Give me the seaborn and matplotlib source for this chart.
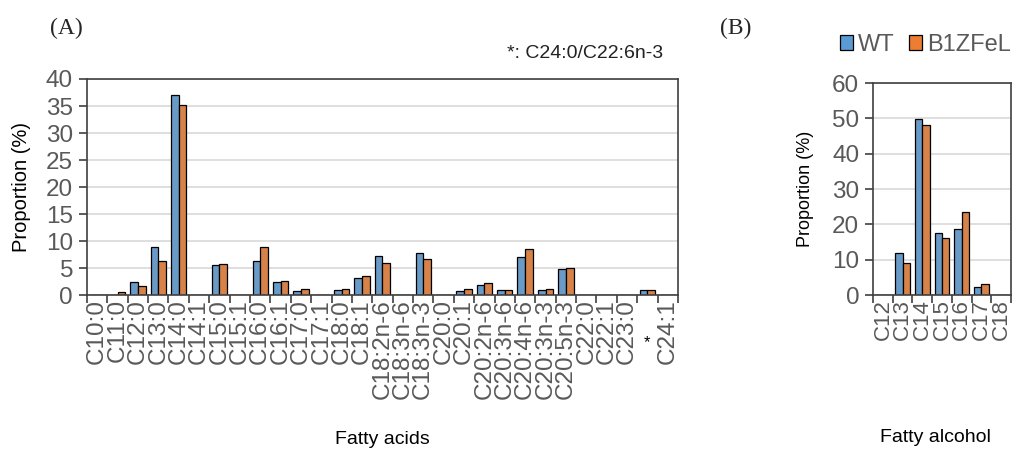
import matplotlib
matplotlib.use("Agg")
import matplotlib.pyplot as plt
from matplotlib.patches import Patch
import pandas as pd
import seaborn as sns

# --- data ---
acids = ["C10:0", "C11:0", "C12:0", "C13:0", "C14:0", "C14:1", "C15:0", "C15:1",
         "C16:0", "C16:1", "C17:0", "C17:1", "C18:0", "C18:1", "C18:2n-6",
         "C18:3n-6", "C18:3n-3", "C20:0", "C20:1", "C20:2n-6", "C20:3n-6",
         "C20:4n-6", "C20:3n-3", "C20:5n-3", "C22:0", "C22:1", "C23:0", "*", "C24:1"]
acid_wt = [0.0, 0.1, 2.5, 8.9, 37.0, 0.0, 5.5, 0.0,
           6.4, 2.4, 0.8, 0.0, 0.9, 3.2, 7.2,
           0.1, 7.8, 0.0, 0.8, 1.8, 1.0,
           7.1, 1.0, 4.8, 0.1, 0.1, 0.0, 0.9, 0.0]
acid_b1 = [0.0, 0.5, 1.7, 6.4, 35.2, 0.0, 5.7, 0.0,
           8.9, 2.6, 1.2, 0.0, 1.2, 3.6, 6.0,
           0.1, 6.7, 0.0, 1.2, 2.2, 0.9,
           8.6, 1.1, 5.1, 0.0, 0.0, 0.0, 1.0, 0.0]

alcohols = ["C12", "C13", "C14", "C15", "C16", "C17", "C18"]
alc_wt = [0.0, 11.9, 49.7, 17.5, 18.6, 2.4, 0.0]
alc_b1 = [0.0, 9.1, 48.1, 16.2, 23.5, 3.2, 0.0]

strains = ["WT", "B1ZFeL"]
colors = ["#5B9BD5", "#ED7D31"]

acid_df = pd.DataFrame({
    "name": acids * 2,
    "value": acid_wt + acid_b1,
    "strain": [strains[0]] * len(acids) + [strains[1]] * len(acids),
})
alc_df = pd.DataFrame({
    "name": alcohols * 2,
    "value": alc_wt + alc_b1,
    "strain": [strains[0]] * len(alcohols) + [strains[1]] * len(alcohols),
})

sns.set_style("white")
plt.rcParams["font.family"] = ["Liberation Sans", "DejaVu Sans"]

GRAY = "#595959"
fig = plt.figure(figsize=(10.16, 4.54), dpi=100)
ax_a = fig.add_axes([0.0856, 0.350, 0.5817, 0.476])
ax_b = fig.add_axes([0.8593, 0.350, 0.1358, 0.467])


def style_axis(ax, names, ymax, ystep, xsize):
    ax.set_ylim(0, ymax)
    ax.set_xlim(-0.5, len(names) - 0.5)
    ax.set_yticks(range(0, ymax + 1, ystep))
    ax.yaxis.grid(True, color="#d9d9d9", linewidth=1.2)
    ax.set_axisbelow(True)
    for s in ax.spines.values():
        s.set_color("#404040")
        s.set_linewidth(1.2)
    ax.tick_params(axis="y", direction="out", length=6, width=1.2, color="#404040",
                   labelsize=17.5, labelcolor=GRAY, pad=4, left=True)
    ax.set_xticks([i - 0.5 for i in range(len(names) + 1)], minor=True)
    ax.tick_params(axis="x", which="minor", direction="out", length=6, width=1.2,
                   color="#404040", bottom=True)
    ax.tick_params(axis="x", which="major", length=0, labelsize=xsize,
                   labelcolor=GRAY, pad=3, labelrotation=90)


# (A) fatty acids
sns.barplot(data=acid_df, x="name", y="value", hue="strain", palette=colors,
            width=0.75, edgecolor="black", linewidth=0.9, legend=False, ax=ax_a)
style_axis(ax_a, acids, 40, 5, 17.5)
ax_a.set_xlabel("Fatty acids", fontsize=14, color="black")
ax_a.xaxis.set_label_coords(0.5, -0.63)
ax_a.set_ylabel("Proportion (%)", fontsize=14.5, color="black")
ax_a.yaxis.set_label_coords(-0.095, 0.5)

# the "*" category gets a small black star instead of a rotated label
star_idx = acids.index("*")
labels = ax_a.get_xticklabels()
labels[star_idx].set_visible(False)
ax_a.text(star_idx, -0.22, "*", transform=ax_a.get_xaxis_transform(),
          ha="center", va="center", fontsize=12, color="black")
ax_a.text(0.975, 1.12, "*: C24:0/C22:6n-3", transform=ax_a.transAxes,
          ha="right", va="center", fontsize=14, color="#222222")

# (B) fatty alcohols
sns.barplot(data=alc_df, x="name", y="value", hue="strain", palette=colors,
            width=0.75, edgecolor="black", linewidth=0.9, legend=False, ax=ax_b)
style_axis(ax_b, alcohols, 60, 10, 16)
ax_b.set_xlabel("Fatty alcohol", fontsize=14, color="black")
ax_b.xaxis.set_label_coords(0.45, -0.63)
ax_b.set_ylabel("Proportion (%)", fontsize=13, color="black")
ax_b.yaxis.set_label_coords(-0.43, 0.5)

handles = [Patch(facecolor=c, edgecolor="black", linewidth=0.9, label=s)
           for c, s in zip(colors, strains)]
leg = ax_b.legend(handles=handles, loc="center", bbox_to_anchor=(0.38, 1.18),
                  ncol=2, frameon=False, fontsize=17, handlelength=0.55,
                  handleheight=0.55, handletextpad=0.2, columnspacing=0.6,
                  borderaxespad=0, borderpad=0)
for t in leg.get_texts():
    t.set_color(GRAY)

fig.text(50 / 1016, 1 - 28 / 454, "(A)", fontsize=17, family="Liberation Serif",
         ha="left", va="center")
fig.text(720 / 1016, 1 - 28 / 454, "(B)", fontsize=17, family="Liberation Serif",
         ha="left", va="center")

plt.savefig("out.png", dpi=100)
